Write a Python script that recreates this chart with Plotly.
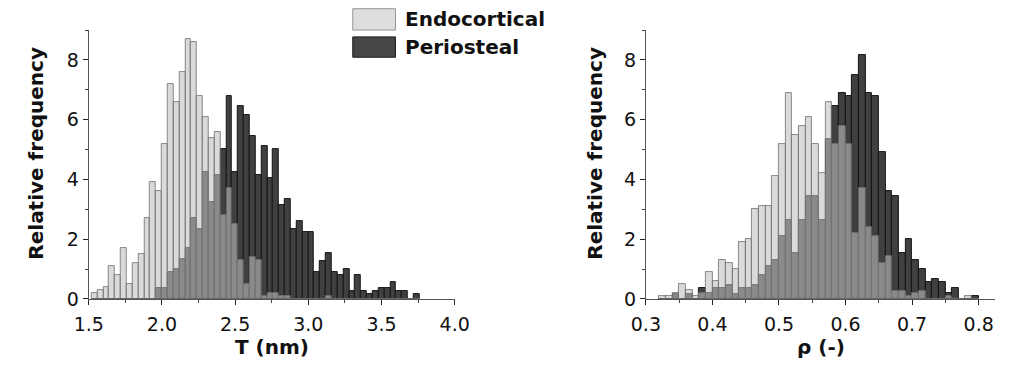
import numpy as np
import plotly.graph_objects as go

# --- Crystal thickness T (nm): bins of 0.04 nm starting at 1.52 nm ---
T_BIN_START = 1.52
T_BIN_WIDTH = 0.04
t_endocortical = [0.2, 0.3, 0.4, 1.1, 0.8, 1.7, 0.5, 1.2, 1.5, 2.7,
                  3.9, 3.6, 5.2, 7.2, 6.6, 7.6, 8.7, 8.6, 6.8, 6.1,
                  5.4, 5.6, 2.8, 3.7, 2.5, 1.3, 0.5, 1.4, 1.3, 0.1,
                  0.2, 0.2, 0.1, 0.1, 0.0, 0.0, 0.0, 0.0, 0.0, 0.0,
                  0.1, 0.0, 0.0, 0.0, 0.0, 0.0, 0.0, 0.0, 0.0, 0.0,
                  0.0, 0.0, 0.0, 0.0, 0.0, 0.0]
t_periosteal = [0.0, 0.0, 0.0, 0.0, 0.0, 0.0, 0.0, 0.0, 0.0, 0.0,
                0.0, 0.35, 0.35, 0.9, 1.0, 1.35, 1.7, 2.7, 2.35, 4.25,
                3.25, 4.15, 5.0, 6.8, 4.25, 6.45, 6.15, 5.45, 4.15, 5.1,
                4.05, 5.0, 3.15, 3.35, 2.35, 2.6, 2.25, 2.25, 0.9, 1.25,
                1.55, 0.9, 0.8, 1.0, 0.25, 0.8, 0.25, 0.15, 0.25, 0.35,
                0.35, 0.55, 0.25, 0.25, 0.0, 0.15]

# --- Degree of orientation rho (-): bins of 0.01 starting at 0.32 ---
R_BIN_START = 0.32
R_BIN_WIDTH = 0.01
r_endocortical = [0.1, 0.1, 0.2, 0.5, 0.3, 0.1, 0.2, 0.9, 0.6, 1.3,
                  1.2, 1.0, 1.9, 2.0, 3.0, 3.1, 3.1, 4.1, 5.2, 6.9,
                  5.5, 5.8, 6.1, 5.2, 4.2, 6.6, 5.2, 5.8, 5.2, 2.2,
                  3.7, 2.4, 2.1, 1.2, 1.45, 0.25, 0.25, 0.1, 0.2, 0.25,
                  0.0, 0.0, 0.0, 0.1, 0.0, 0.0, 0.1, 0.0]
r_periosteal = [0.0, 0.0, 0.15, 0.0, 0.15, 0.0, 0.35, 0.2, 0.35, 0.35,
                0.45, 0.15, 0.35, 0.35, 0.45, 0.8, 1.1, 1.3, 2.1, 2.65,
                1.55, 2.65, 3.45, 3.45, 2.65, 5.35, 6.45, 6.9, 6.8, 7.5,
                8.15, 6.9, 6.8, 4.9, 3.6, 3.45, 1.55, 2.0, 1.3, 1.0,
                0.55, 0.65, 0.55, 0.2, 0.35, 0.0, 0.0, 0.1]

t_ticks = [1.5, 2.0, 2.5, 3.0, 3.5, 4.0]
r_ticks = [0.3, 0.4, 0.5, 0.6, 0.7, 0.8]
y_ticks = [0, 2, 4, 6, 8]

SERIES = ["Endocortical", "Periosteal"]
DARK_FILL = "rgb(64,64,64)"
DARK_LINE = "rgb(20,20,20)"
LIGHT_FILL = "rgba(191,191,191,0.58)"
LIGHT_LINE = "rgba(110,110,110,0.8)"

FONT = "DejaVu Sans"
W, H = 1020, 373


def centers(start, width, n):
    return np.round(start + width * (np.arange(n) + 0.5), 4)


fig = go.Figure()

# Periosteal first (underneath), Endocortical translucent on top
for xa, ya, start, width, endo, peri in [
    ("x", "y", T_BIN_START, T_BIN_WIDTH, t_endocortical, t_periosteal),
    ("x2", "y2", R_BIN_START, R_BIN_WIDTH, r_endocortical, r_periosteal),
]:
    fig.add_trace(go.Bar(
        x=centers(start, width, len(peri)), y=peri, width=width,
        name=SERIES[1], xaxis=xa, yaxis=ya, showlegend=False,
        marker=dict(color=DARK_FILL, line=dict(color=DARK_LINE, width=1)),
        hoverinfo="skip"))
    fig.add_trace(go.Bar(
        x=centers(start, width, len(endo)), y=endo, width=width,
        name=SERIES[0], xaxis=xa, yaxis=ya, showlegend=False,
        marker=dict(color=LIGHT_FILL, line=dict(color=LIGHT_LINE, width=1)),
        hoverinfo="skip"))

# plot-area placement in pixels
L1, R1 = 76, 453
L2, R2 = 650, 1010
TOP, BOT = 31, 308

axis_common = dict(showline=True, linecolor="#555", linewidth=1,
                   showgrid=False, zeroline=False, ticks="outside",
                   ticklen=5, tickwidth=1, tickcolor="#222",
                   tickfont=dict(family=FONT, size=19, color="#111"),
                   fixedrange=True)

xminor = dict(ticks="outside", ticklen=3, tickcolor="#444")
fig.update_layout(
    width=W, height=H,
    margin=dict(l=0, r=0, t=0, b=0),
    paper_bgcolor="white", plot_bgcolor="white",
    barmode="overlay", bargap=0,
    font=dict(family=FONT, color="#111"),
    xaxis=dict(domain=[L1 / W, R1 / W], range=[1.5, 4.0], anchor="y",
               tickvals=t_ticks, ticktext=[f"{v:.1f}" for v in t_ticks],
               minor=dict(dtick=0.25, tick0=1.5, **xminor),
               ticklabelstandoff=3, **axis_common),
    yaxis=dict(domain=[1 - BOT / H, 1 - TOP / H], range=[0, 9], anchor="x",
               tickvals=y_ticks,
               minor=dict(dtick=1, tick0=0, **xminor),
               **axis_common),
    xaxis2=dict(domain=[L2 / W, R2 / W], range=[0.3, 0.825], anchor="y2",
                tickvals=r_ticks, ticktext=[f"{v:.1f}" for v in r_ticks],
                minor=dict(dtick=0.05, tick0=0.3, **xminor),
                ticklabelstandoff=3, **axis_common),
    yaxis2=dict(domain=[1 - BOT / H, 1 - TOP / H], range=[0, 9], anchor="x2",
                tickvals=y_ticks,
                minor=dict(dtick=1, tick0=0, **xminor),
                **axis_common),
)

title_font = dict(family=FONT, size=20, color="#111")
bold = lambda s: f"<b>{s}</b>"

annotations = [
    dict(text=bold("T (nm)"), x=(L1 + R1) / 2 / W, y=1 - 358 / H),
    dict(text=bold("ρ (-)"), x=(L2 + R2) / 2 / W, y=1 - 358 / H),
    dict(text=bold("Relative frequency"), x=22 / W, y=1 - 158 / H, textangle=-90),
    dict(text=bold("Relative frequency"), x=598 / W, y=1 - 158 / H, textangle=-90),
]
for a in annotations:
    fig.add_annotation(xref="paper", yref="paper", showarrow=False,
                       xanchor="center", yanchor="middle", font=title_font, **a)

# legend: swatches with labels
legend_items = [(SERIES[0], "rgb(222,222,222)", "rgb(150,150,150)", 9, 31),
                (SERIES[1], "rgb(70,70,70)", "rgb(30,30,30)", 38, 59)]
for label, fill, edge, y0, y1 in legend_items:
    fig.add_shape(type="rect", xref="paper", yref="paper",
                  x0=348 / W, x1=392 / W, y0=1 - y1 / H, y1=1 - y0 / H,
                  fillcolor=fill, line=dict(color=edge, width=1))
    fig.add_annotation(xref="paper", yref="paper", showarrow=False,
                       x=400 / W, y=1 - (y0 + y1) / 2 / H,
                       xanchor="left", yanchor="middle",
                       text=bold(label), font=title_font)

fig.write_html("out.html")
